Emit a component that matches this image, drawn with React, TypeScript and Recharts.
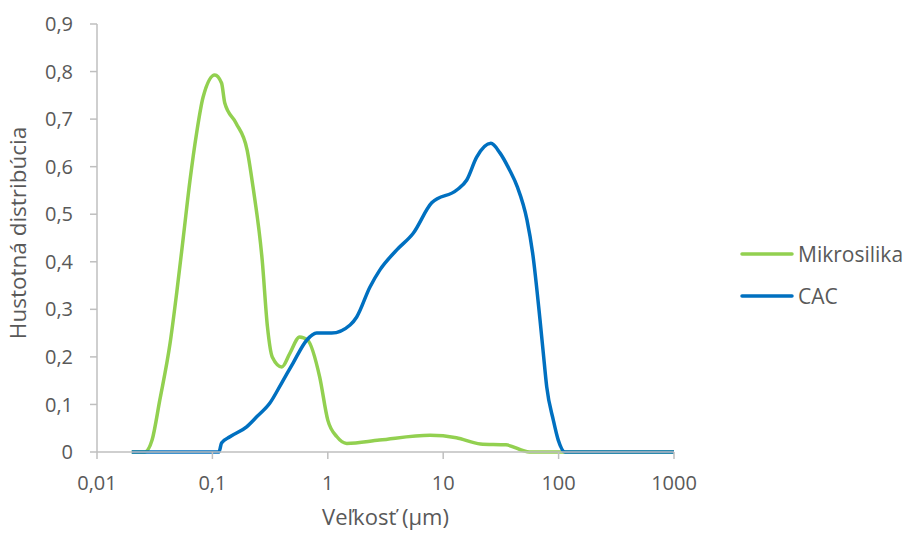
import { LineChart, Line, XAxis, YAxis, Legend } from 'recharts'

// particle size (µm) and density readings
const mikrosilikaSize = [
  0.02, 0.026, 0.03, 0.035, 0.043, 0.049, 0.056, 0.064, 0.073, 0.083, 0.105, 0.12, 0.128, 0.16,
  0.2, 0.225, 0.27, 0.3, 0.33, 0.4, 0.47, 0.57, 0.67, 0.85, 1.0, 1.2, 1.46, 2.8, 7.7, 13, 21, 35,
  56, 1000,
]
const mikrosilikaDensity = [
  0, 0, 0.025, 0.109, 0.229, 0.334, 0.452, 0.572, 0.671, 0.746, 0.793, 0.776, 0.734, 0.692, 0.635,
  0.557, 0.404, 0.263, 0.2, 0.179, 0.208, 0.242, 0.235, 0.158, 0.067, 0.032, 0.018, 0.025, 0.035,
  0.03, 0.017, 0.015, 0, 0,
]

const cacSize = [
  0.02, 0.114, 0.12, 0.142, 0.198, 0.242, 0.315, 0.398, 0.5, 0.656, 0.8, 1.08, 1.56, 1.78, 2.32,
  2.83, 3.96, 5.5, 7.95, 13.1, 16, 19.5, 25.9, 31, 37.6, 43.8, 53.2, 59.6, 69, 73.7, 78.9, 90, 99.3,
  113.6, 1000,
]
const cacDensity = [
  0, 0, 0.019, 0.032, 0.053, 0.074, 0.103, 0.145, 0.187, 0.235, 0.25, 0.25, 0.267, 0.284, 0.347,
  0.383, 0.425, 0.46, 0.524, 0.551, 0.572, 0.62, 0.649, 0.629, 0.593, 0.558, 0.488, 0.418, 0.278,
  0.208, 0.137, 0.067, 0.025, 0, 0,
]

const seriesOrder = ['Mikrosilika', 'CAC']
const xTicks = [0.01, 0.1, 1, 10, 100, 1000]
const yTicks = [0, 0.1, 0.2, 0.3, 0.4, 0.5, 0.6, 0.7, 0.8, 0.9]

const mikrosilika = mikrosilikaSize.map((x, i) => ({ x, y: mikrosilikaDensity[i] }))
const cac = cacSize.map((x, i) => ({ x, y: cacDensity[i] }))

const font = '"Open Sans", sans-serif'
const textColor = '#595959'
const axisColor = '#BFBFBF'
const comma = (v: number) => String(v).replace('.', ',')

function LegendBox({ payload }: any) {
  const items = [...(payload || [])].sort(
    (a: any, b: any) => seriesOrder.indexOf(a.value) - seriesOrder.indexOf(b.value),
  )
  return (
    <div style={{ width: 230, paddingLeft: 66, boxSizing: 'border-box', fontFamily: font }}>
      {items.map((p: any) => (
        <div key={p.value} style={{ display: 'flex', alignItems: 'center', height: 42 }}>
          <svg width={56} height={8} style={{ marginRight: 2 }}>
            <line x1={2} y1={4} x2={52} y2={4} stroke={p.color} strokeWidth={3.5} strokeLinecap="round" />
          </svg>
          <span style={{ fontSize: 21, color: textColor, whiteSpace: 'nowrap' }}>{p.value}</span>
        </div>
      ))}
    </div>
  )
}

export default function App() {
  return (
    <div style={{ position: 'absolute', left: 0, top: 0, fontFamily: font }}>
      <LineChart width={904} height={533} margin={{ top: 24, right: 0, bottom: 0, left: 0 }}>
        <XAxis
          dataKey="x"
          type="number"
          scale="log"
          domain={[0.01, 1000]}
          ticks={xTicks}
          interval={0}
          allowDataOverflow
          height={81}
          stroke={axisColor}
          strokeWidth={1.5}
          tickSize={7}
          tickMargin={17}
          tickFormatter={comma}
          tick={{ fill: textColor, fontSize: 20, fontFamily: font }}
          label={{
            value: 'Veľkosť (µm)',
            position: 'insideBottom',
            offset: 8,
            fill: textColor,
            fontSize: 22,
            fontFamily: font,
          }}
        />
        <YAxis
          type="number"
          domain={[0, 0.9]}
          ticks={yTicks}
          interval={0}
          width={97}
          stroke={axisColor}
          strokeWidth={1.5}
          tickSize={7}
          tickMargin={17}
          tickFormatter={comma}
          tick={{ fill: textColor, fontSize: 20, fontFamily: font }}
          label={{
            value: 'Hustotná distribúcia',
            angle: -90,
            position: 'insideLeft',
            offset: 18,
            dy: -5,
            fill: textColor,
            fontSize: 22.5,
            fontFamily: font,
            style: { textAnchor: 'middle' },
          }}
        />
        <Legend
          layout="vertical"
          align="right"
          verticalAlign="middle"
          content={<LegendBox />}
          wrapperStyle={{ top: 233 }}
        />
        <Line
          data={mikrosilika}
          dataKey="y"
          name="Mikrosilika"
          type="monotone"
          stroke="#92D050"
          strokeWidth={3.5}
          dot={false}
          activeDot={false}
          isAnimationActive={false}
        />
        <Line
          data={cac}
          dataKey="y"
          name="CAC"
          type="monotone"
          stroke="#0070C0"
          strokeWidth={3.5}
          dot={false}
          activeDot={false}
          isAnimationActive={false}
        />
      </LineChart>
    </div>
  )
}
